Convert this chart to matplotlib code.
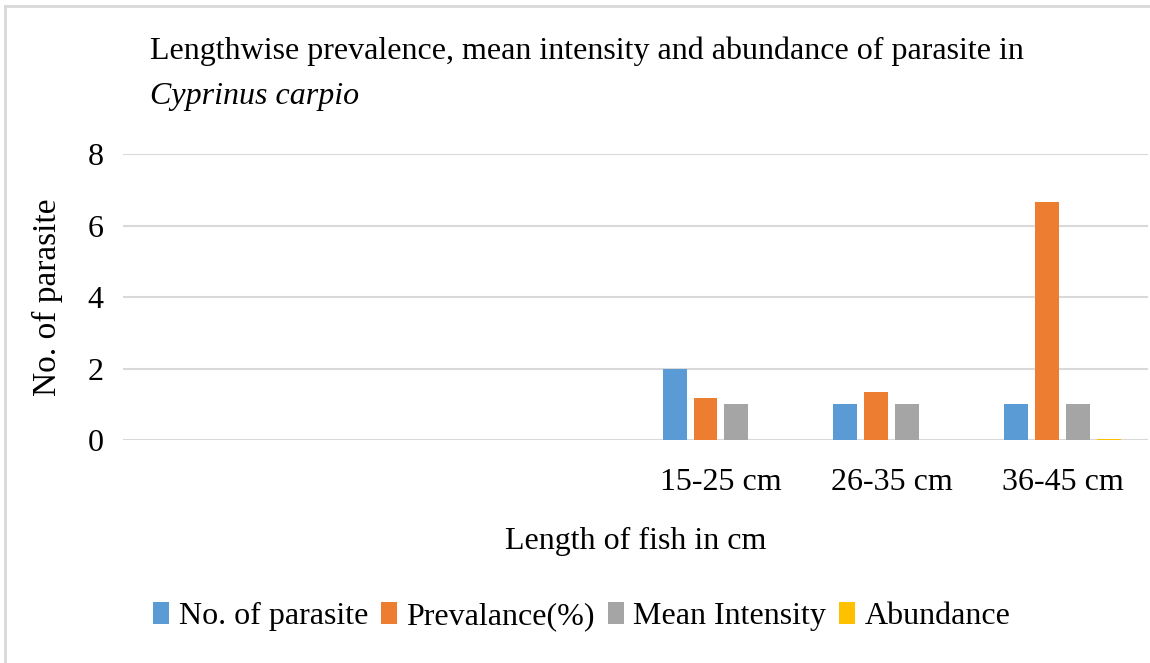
import numpy as np
import matplotlib.pyplot as plt
from matplotlib.lines import Line2D

plt.rcParams['font.family'] = ['Liberation Serif', 'DejaVu Serif']

# data
categories = ["", "", "", "15-25 cm", "26-35 cm", "36-45 cm"]
no_of_parasite = [np.nan, np.nan, np.nan, 2, 1, 1]
prevalance = [np.nan, np.nan, np.nan, 1.17, 1.33, 6.67]
mean_intensity = [np.nan, np.nan, np.nan, 1, 1, 1]
abundance = [np.nan, np.nan, np.nan, 0, 0, 0.04]

series = [("No. of parasite", no_of_parasite, "#5b9bd5"),
          ("Prevalance(%)", prevalance, "#ed7d31"),
          ("Mean Intensity", mean_intensity, "#a5a5a5"),
          ("Abundance", abundance, "#ffc000")]

fig = plt.figure(figsize=(11.5, 6.63), dpi=100)
ax = fig.add_axes([0.107, 0.3363, 0.8913, 0.4314])

# light border (top and left only are visible in the original)
fig.lines.append(Line2D([0.0045, 1.0], [0.991, 0.991], transform=fig.transFigure,
                        color="#d9d9d9", linewidth=2))
fig.lines.append(Line2D([0.0045, 0.0045], [0.0, 0.991], transform=fig.transFigure,
                        color="#d9d9d9", linewidth=2))

x = np.arange(len(categories))
step = 0.181
width = 0.140
for i, (name, vals, color) in enumerate(series):
    ax.bar(x + (i - 1.5) * step, vals, width=width, color=color, label=name, zorder=3)

ax.set_xlim(-0.5, len(categories) - 0.5)
ax.set_ylim(0, 8)
ax.set_yticks([0, 2, 4, 6, 8])
ax.set_xticks(x)
ax.set_xticklabels(categories)
ax.tick_params(axis='both', length=0, labelsize=23)
ax.tick_params(axis='x', pad=20)
ax.tick_params(axis='y', pad=14)
ax.grid(axis='y', color="#d9d9d9", linewidth=1.5, zorder=0)
for s in ax.spines.values():
    s.set_visible(False)

ax.set_xlabel("Length of fish in cm", fontsize=23, labelpad=22)
ax.set_ylabel("No. of parasite", fontsize=24, labelpad=18)

fig.text(0.13, 0.922, "Lengthwise prevalence, mean intensity and abundance of parasite in",
         fontsize=23, va='center', ha='left')
fig.text(0.13, 0.855, "Cyprinus carpio", fontsize=23, style='italic', va='center', ha='left')

fig.legend(loc='center', bbox_to_anchor=(0.506, 0.07), ncol=4, frameon=False,
           fontsize=23, handlelength=0.5, handleheight=0.7, handletextpad=0.3,
           columnspacing=0.4)

plt.savefig("out.png", dpi=100)
